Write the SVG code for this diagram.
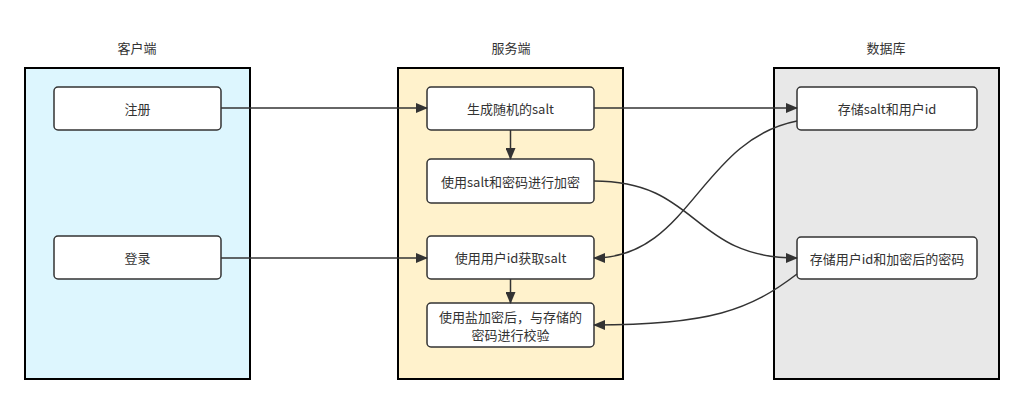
<svg xmlns="http://www.w3.org/2000/svg" width="1024" height="404" viewBox="0 0 1024 404">
<defs>
<marker id="arr" markerWidth="12" markerHeight="10" viewBox="0 0 12 10" refX="11" refY="5" orient="auto" markerUnits="userSpaceOnUse">
<path d="M0,0 L12,5 L0,10 Z" fill="#333"/>
</marker>
</defs>
<style>
.cont{stroke:#000;stroke-width:2}
.node{fill:#fff;stroke:#333;stroke-width:1.5}
.t{font-family:"Noto Sans CJK SC","Liberation Sans",sans-serif;font-size:13px;fill:#333;text-anchor:middle;dominant-baseline:central}
.e{fill:none;stroke:#333;stroke-width:1.5;marker-end:url(#arr)}
</style>
<rect width="1024" height="404" fill="#fff"/>
<g id="client">
<text class="t" x="137" y="47">客户端</text>
<rect class="cont" x="25" y="68" width="225" height="311" fill="#ddf6fe"/>
</g>
<g id="server">
<text class="t" x="511" y="47">服务端</text>
<rect class="cont" x="398" y="68" width="225" height="311" fill="#fff2cc"/>
</g>
<g id="db">
<text class="t" x="886" y="47">数据库</text>
<rect class="cont" x="774" y="68" width="225" height="311" fill="#e8e8e8"/>
</g>
<g id="n-register"><rect class="node" x="54" y="87" width="167" height="43" rx="4"/><text class="t" x="137.5" y="108.5">注册</text></g>
<g id="n-login"><rect class="node" x="54" y="236" width="167" height="43" rx="4"/><text class="t" x="137.5" y="257.5">登录</text></g>
<g id="n-gen"><rect class="node" x="427" y="87" width="167" height="43" rx="4"/><text class="t" x="510.5" y="108.5">生成随机的salt</text></g>
<g id="n-enc"><rect class="node" x="427" y="159" width="167" height="44" rx="4"/><text class="t" x="510.5" y="181">使用salt和密码进行加密</text></g>
<g id="n-get"><rect class="node" x="427" y="236" width="167" height="43" rx="4"/><text class="t" x="510.5" y="257.5">使用用户id获取salt</text></g>
<g id="n-verify"><rect class="node" x="427" y="303" width="167" height="44" rx="4"/><text class="t" x="510.5" y="316.5">使用盐加密后，与存储的</text><text class="t" x="510.5" y="334">密码进行校验</text></g>
<g id="n-store1"><rect class="node" x="797" y="87" width="180" height="43" rx="4"/><text class="t" x="887" y="108.5">存储salt和用户id</text></g>
<g id="n-store2"><rect class="node" x="797" y="237" width="180" height="42" rx="4"/><text class="t" x="887" y="258">存储用户id和加密后的密码</text></g>
<g id="connectors">
<path class="e" d="M221,108 L427,108"/>
<path class="e" d="M510.5,130 L510.5,159"/>
<path class="e" d="M594,108 L797,108"/>
<path class="e" d="M594,181 C700,181 690,258 797,258"/>
<path class="e" d="M797,121 C700,140 690,258 594,258"/>
<path class="e" d="M221,258 L427,258"/>
<path class="e" d="M510.5,279 L510.5,303"/>
<path class="e" d="M797,274 C750,310 710,325 594,325"/>
</g>
</svg>
